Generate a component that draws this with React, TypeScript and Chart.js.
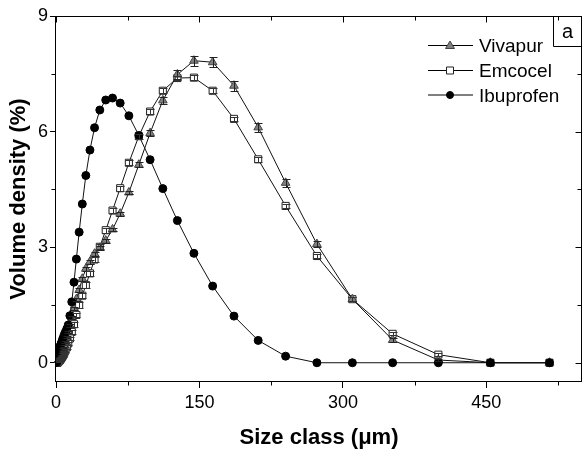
import { useEffect, useRef } from 'react';
import { Chart, registerables } from 'chart.js';
Chart.register(...registerables);

const FONT = "'Liberation Sans', Arial, sans-serif";

const sizes = [516, 454.2, 399.8, 352.0, 309.9, 272.8, 240.1, 211.4, 186.1, 163.8, 144.2, 126.9, 111.7, 98.4, 86.6, 76.2, 67.1, 59.1, 52.0, 45.8, 40.3, 35.5, 31.2, 27.5, 24.2, 21.3, 18.8, 16.5, 14.5, 12.8, 11.3, 9.9, 8.7, 7.7, 6.8, 6.0, 5.2, 4.6, 4.1, 3.6, 3.1, 2.8, 2.4, 2.1, 1.9, 1.7, 1.5, 1.3, 1.1, 1.0, 0.9, 0.8, 0.7, 0.6, 0.5];

const vivapur = [0, 0, 0.07, 0.59, 1.65, 3.08, 4.67, 6.11, 7.19, 7.80, 7.84, 7.48, 6.81, 5.96, 5.14, 4.42, 3.87, 3.46, 3.17, 2.98, 2.83, 2.62, 2.44, 2.18, 1.89, 1.65, 1.40, 1.17, 0.97, 0.80, 0.66, 0.54, 0.44, 0.36, 0.29, 0.23, 0.18, 0.14, 0.11, 0.09, 0.07, 0.05, 0.04, 0.03, 0.02, 0.02, 0.01, 0.01, 0, 0, 0, 0, 0, 0, 0];
const vivapurErr = [0, 0, 0.02, 0.04, 0.06, 0.08, 0.1, 0.12, 0.13, 0.13, 0.13, 0.12, 0.1, 0.08, 0.06, 0.05, 0.05, 0.05, 0.05, 0.05, 0.05, 0.05, 0.05, 0.05, 0.05, 0.04, 0.04, 0.04, 0.04, 0.03, 0.03, 0.03, 0.03, 0.02, 0.02, 0.02, 0.02, 0.02, 0.01, 0.01, 0.01, 0.01, 0.01, 0.01, 0.01, 0.01, 0, 0, 0, 0, 0, 0, 0, 0, 0];

const emcocel = [0, 0, 0.21, 0.75, 1.65, 2.77, 4.07, 5.28, 6.33, 7.06, 7.40, 7.39, 7.06, 6.52, 5.88, 5.19, 4.53, 3.95, 3.44, 3.01, 2.68, 2.32, 2.02, 1.74, 1.50, 1.24, 1.00, 0.80, 0.63, 0.50, 0.40, 0.32, 0.26, 0.21, 0.17, 0.14, 0.11, 0.09, 0.07, 0.06, 0.05, 0.04, 0.03, 0.02, 0.02, 0.01, 0.01, 0, 0, 0, 0, 0, 0, 0, 0];
const emcocelErr = [0, 0, 0.03, 0.04, 0.05, 0.06, 0.06, 0.06, 0.06, 0.06, 0.06, 0.06, 0.06, 0.06, 0.06, 0.06, 0.06, 0.07, 0.07, 0.07, 0.07, 0.07, 0.07, 0.07, 0.07, 0.06, 0.06, 0.06, 0.05, 0.05, 0.05, 0.04, 0.04, 0.04, 0.03, 0.03, 0.03, 0.02, 0.02, 0.02, 0.02, 0.01, 0.01, 0.01, 0.01, 0, 0, 0, 0, 0, 0, 0, 0, 0, 0];

const ibuprofen = [0, 0, 0, 0, 0, 0, 0.17, 0.58, 1.21, 1.99, 2.84, 3.69, 4.52, 5.27, 5.90, 6.41, 6.74, 6.87, 6.82, 6.56, 6.10, 5.52, 4.86, 4.12, 3.39, 2.69, 2.09, 1.58, 1.22, 0.98, 0.88, 0.80, 0.73, 0.66, 0.60, 0.54, 0.49, 0.44, 0.40, 0.35, 0.31, 0.27, 0.24, 0.20, 0.17, 0.14, 0.12, 0.10, 0.08, 0.06, 0.05, 0.04, 0.03, 0.02, 0.01];

const xTicks = [0, 150, 300, 450];
const xMinor = [75, 225, 375, 525];
const yTicks = [0, 3, 6, 9];
const yMinor = [1.5, 4.5, 7.5];
const xTitle = 'Size class (μm)';
const yTitle = 'Volume density (%)';
const panelLabel = 'a';

const toPoints = (vals: number[]) => vals.map((v, i) => ({ x: sizes[i], y: v }));

const decorPlugin = {
  id: 'decor',
  afterDatasetsDraw(chart: any) {
    const ctx = chart.ctx;
    const xs = chart.scales.x;
    const ys = chart.scales.y;
    ctx.save();
    chart.data.datasets.forEach((ds: any) => {
      if (!ds.errors) return;
      ctx.strokeStyle = ds.errColor || '#000';
      ctx.lineWidth = 1;
      ds.data.forEach((p: any, i: number) => {
        const e = ds.errors[i];
        if (!e) return;
        const px = Math.round(xs.getPixelForValue(p.x)) + 0.5;
        const y1 = Math.round(ys.getPixelForValue(p.y + e)) + 0.5;
        const y2 = Math.round(ys.getPixelForValue(p.y - e)) + 0.5;
        ctx.beginPath();
        ctx.moveTo(px, y1); ctx.lineTo(px, y2);
        ctx.moveTo(px - 4, y1); ctx.lineTo(px + 4, y1);
        ctx.moveTo(px - 4, y2); ctx.lineTo(px + 4, y2);
        ctx.stroke();
      });
    });
    ctx.restore();
  },
  afterDraw(chart: any) {
    const ctx = chart.ctx;
    const { left, right, top, bottom } = chart.chartArea;
    const xs = chart.scales.x;
    const ys = chart.scales.y;
    ctx.save();
    ctx.strokeStyle = '#000';
    ctx.lineWidth = 1;
    const L = Math.round(left) - 0.5, R = Math.round(right) - 0.5, T = Math.round(top) + 0.5, B = Math.round(bottom) - 0.5;
    ctx.strokeRect(L, T, R - L, B - T);
    ctx.beginPath();
    xTicks.forEach((v) => {
      const px = Math.round(xs.getPixelForValue(v)) + 0.5;
      ctx.moveTo(px, T); ctx.lineTo(px, T + 6);
    });
    xMinor.forEach((v) => {
      const px = Math.round(xs.getPixelForValue(v)) + 0.5;
      ctx.moveTo(px, T); ctx.lineTo(px, T + 4);
      ctx.moveTo(px, B); ctx.lineTo(px, B + 4);
    });
    yTicks.forEach((v) => {
      const py = Math.round(ys.getPixelForValue(v)) + 0.5;
      ctx.moveTo(R, py); ctx.lineTo(R - 6, py);
    });
    yMinor.forEach((v) => {
      const py = Math.round(ys.getPixelForValue(v)) + 0.5;
      ctx.moveTo(R, py); ctx.lineTo(R - 4, py);
      ctx.moveTo(L, py); ctx.lineTo(L - 4, py);
    });
    ctx.stroke();

    // panel label box
    const bx = 553.5;
    const by = 46.5;
    ctx.beginPath();
    ctx.moveTo(bx, T); ctx.lineTo(bx, by); ctx.lineTo(R, by);
    ctx.stroke();
    ctx.fillStyle = '#000';
    ctx.font = `20px ${FONT}`;
    ctx.textAlign = 'center';
    ctx.textBaseline = 'alphabetic';
    ctx.fillText(panelLabel, (bx + R) / 2, 38);

    // legend
    const rows = [45, 70, 94.5];
    const lx1 = 428, lx2 = 473, mx = 450, tx = 479;
    chart.data.datasets.forEach((ds: any, i: number) => {
      const y = rows[i];
      ctx.strokeStyle = '#000';
      ctx.lineWidth = 1;
      ctx.beginPath();
      ctx.moveTo(lx1, y + 0.5); ctx.lineTo(lx2, y + 0.5);
      ctx.stroke();
      ctx.fillStyle = ds.pointBackgroundColor;
      ctx.strokeStyle = ds.pointBorderColor;
      ctx.beginPath();
      if (ds.pointStyle === 'triangle') {
        ctx.moveTo(mx, y - 4); ctx.lineTo(mx + 4.5, y + 3.5); ctx.lineTo(mx - 4.5, y + 3.5); ctx.closePath();
      } else if (ds.pointStyle === 'rect') {
        ctx.rect(mx - 3.5, y - 3, 7, 7);
      } else {
        ctx.arc(mx, y + 0.5, 3.5, 0, Math.PI * 2);
      }
      ctx.fill();
      ctx.stroke();
      ctx.fillStyle = '#000';
      ctx.font = `19px ${FONT}`;
      ctx.textAlign = 'left';
      ctx.textBaseline = 'alphabetic';
      ctx.fillText(ds.label, tx, y + 7);
    });
    ctx.restore();
  },
};

export default function App() {
  const ref = useRef<HTMLCanvasElement>(null);
  useEffect(() => {
    if (!ref.current) return;
    const chart = new Chart(ref.current, {
      type: 'line',
      data: {
        datasets: [
          {
            label: 'Vivapur',
            data: toPoints(vivapur),
            errors: vivapurErr,
            errColor: '#222',
            borderColor: '#111',
            borderWidth: 1,
            pointStyle: 'triangle',
            pointRadius: 5,
            pointBackgroundColor: '#808080',
            pointBorderColor: '#444',
            pointBorderWidth: 1,
            order: 1,
          } as any,
          {
            label: 'Emcocel',
            data: toPoints(emcocel),
            errors: emcocelErr,
            errColor: '#333',
            borderColor: '#111',
            borderWidth: 1,
            pointStyle: 'rect',
            pointRadius: 5,
            pointBackgroundColor: '#ffffff',
            pointBorderColor: '#222',
            pointBorderWidth: 1,
            order: 2,
          } as any,
          {
            label: 'Ibuprofen',
            data: toPoints(ibuprofen),
            borderColor: '#111',
            borderWidth: 1,
            pointStyle: 'circle',
            pointRadius: 4,
            pointBackgroundColor: '#000000',
            pointBorderColor: '#000000',
            pointBorderWidth: 1,
            order: 0,
          } as any,
        ],
      },
      options: {
        animation: false,
        responsive: false,
        devicePixelRatio: 1,
        layout: { autoPadding: false, padding: { top: 16, right: 1, left: 0, bottom: 0 } },
        plugins: { legend: { display: false }, tooltip: { enabled: false } },
        elements: { line: { tension: 0 } },
        scales: {
          x: {
            type: 'linear',
            min: 0,
            max: 550,
            afterBuildTicks: (s: any) => { s.ticks = xTicks.map((v) => ({ value: v })); },
            afterFit: (s: any) => { s.height = 67; },
            grid: { display: true, drawOnChartArea: false, drawTicks: true, tickLength: 6, color: '#000', lineWidth: 1 },
            border: { display: false },
            ticks: { color: '#000', font: { family: FONT, size: 18 }, padding: 4, maxRotation: 0, autoSkip: false },
            title: { display: true, text: xTitle, color: '#000', font: { family: FONT, size: 22, weight: 'bold', lineHeight: 1 }, padding: { top: 0, bottom: 0 } },
          },
          y: {
            type: 'linear',
            min: -0.5,
            max: 9,
            afterBuildTicks: (s: any) => { s.ticks = yTicks.map((v) => ({ value: v })); },
            afterFit: (s: any) => { s.width = 56; },
            grid: { display: true, drawOnChartArea: false, drawTicks: true, tickLength: 6, color: '#000', lineWidth: 1 },
            border: { display: false },
            ticks: { color: '#000', font: { family: FONT, size: 18 }, padding: 2, autoSkip: false },
            title: { display: true, text: yTitle, color: '#000', font: { family: FONT, size: 22, weight: 'bold', lineHeight: 1 }, padding: { top: 8, bottom: 0 } },
          },
        },
      } as any,
      plugins: [decorPlugin],
    });
    return () => chart.destroy();
  }, []);
  return (
    <div style={{ position: 'absolute', left: 0, top: 0, width: 583, height: 449, background: '#fff' }}>
      <canvas ref={ref} width={583} height={449} style={{ display: 'block' }} />
    </div>
  );
}
